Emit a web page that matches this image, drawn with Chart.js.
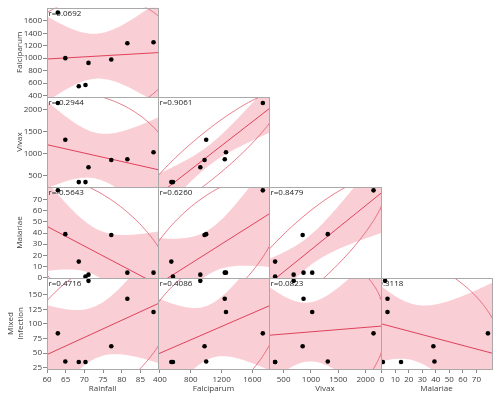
<!DOCTYPE html>
<html><head><meta charset="utf-8">
<script src="https://cdn.jsdelivr.net/npm/chart.js@4"></script>
<style>
html,body{margin:0;padding:0;background:#fff;}
#wrap{position:relative;width:500px;height:397px;overflow:hidden;}
#wrap canvas{position:absolute;left:0;top:0;}
</style></head><body><div id="wrap"></div>
<script>
// ---- data (8 observations) ----
const rainfall   = [62.9, 64.9, 68.5, 70.3, 71.1, 77.2, 81.5, 88.5];
const falciparum = [1735, 1000, 548, 569, 924, 979, 1241, 1257];
const vivax      = [2145, 1308, 344, 344, 683, 848, 864, 1023];
const malariae   = [78.5, 39, 14.3, 0.9, 2.5, 38.2, 4.3, 4.3];
const mixed      = [83.8, 35.7, 34.7, 34.7, 173.7, 61.8, 143.2, 120.5];

const xTitles = ['Rainfall', 'Falciparum', 'Vivax', 'Malariae'];
const yTitles = [['Falciparum'], ['Vivax'], ['Malariae'], ['Mixed', 'Infection']];

const rainfallTicks   = [60, 65, 70, 75, 80, 85];
const falciparumXTicks = [400, 800, 1200, 1600];
const falciparumYTicks = [400, 600, 800, 1000, 1200, 1400, 1600];
const vivaxTicks      = [500, 1000, 1500, 2000];
const malariaeTicks   = [0, 10, 20, 30, 40, 50, 60, 70];
const mixedTicks      = [25, 50, 75, 100, 125, 150];

const rLabels = [
  ['r=0.0692'],
  ['r=-0.2944', 'r=0.9061'],
  ['r=-0.5643', 'r=0.6260', 'r=0.8479'],
  ['r=0.4716', 'r=0.4086', 'r=0.0823', 'r=-0.3118']
];

// ---- statistical constants ----
const T95 = 2.4469;    // Student t, 6 df, two-sided 95%
const CHI95 = 5.9915;  // chi-square, 2 df, 95% (density ellipse)

// ---- layout / scale settings ----
const colEdges = [47, 158, 269, 381, 492];
const rowEdges = [7.5, 97, 187, 278, 369];
const XAXIS_H = 20;
const FONT = '"Segoe UI","Open Sans","Noto Sans",sans-serif';
const TXT = '#3c3c3c';
const BAND = 'rgb(250,206,213)';
const LINE = 'rgb(222,66,92)';
const ELL = 'rgb(226,88,108)';

const colVars = [
  {vals: rainfall,   min: 60,   max: 89.7, ticks: rainfallTicks},
  {vals: falciparum, min: 375,  max: 1815, ticks: falciparumXTicks},
  {vals: vivax,      min: 232,  max: 2282, ticks: vivaxTicks},
  {vals: malariae,   min: -0.5, max: 81.5, ticks: malariaeTicks}
];
const rowVars = [
  {vals: falciparum, min: 375,  max: 1815, ticks: falciparumYTicks},
  {vals: vivax,      min: 232,  max: 2282, ticks: vivaxTicks},
  {vals: malariae,   min: -0.5, max: 81.5, ticks: malariaeTicks},
  {vals: mixed,      min: 22.8, max: 178.6, ticks: mixedTicks}
];

function stats(X, Y) {
  const n = X.length;
  const mx = X.reduce((a, b) => a + b, 0) / n;
  const my = Y.reduce((a, b) => a + b, 0) / n;
  let sxx = 0, syy = 0, sxy = 0;
  for (let i = 0; i < n; i++) {
    const dx = X[i] - mx, dy = Y[i] - my;
    sxx += dx * dx; syy += dy * dy; sxy += dx * dy;
  }
  const b = sxy / sxx, a = my - b * mx;
  const s2 = (syy - b * sxy) / (n - 2);
  return {n, mx, my, sxx, syy, sxy, a, b, s2};
}

const panelPlugin = {
  id: 'panel',
  afterDatasetDraw(chart, args, opts) {
    if (args.index !== 2) return;
    const ca = chart.chartArea, ctx = chart.ctx;
    ctx.save();
    ctx.beginPath();
    ctx.rect(ca.left, ca.top, ca.right - ca.left, ca.bottom - ca.top);
    ctx.clip();
    ctx.font = '8px ' + FONT;
    ctx.fillStyle = '#222';
    ctx.textBaseline = 'top';
    ctx.textAlign = 'left';
    let x = ca.left + 1.5;
    if (opts.hideTo) x = ca.left + 4 - ctx.measureText(opts.hideTo).width;
    ctx.fillText(opts.label, x, ca.top + 2);
    ctx.restore();
  },
  afterDraw(chart, args, opts) {
    const ca = chart.chartArea, ctx = chart.ctx;
    ctx.save();
    ctx.strokeStyle = '#a9a9a9';
    ctx.lineWidth = 1;
    ctx.strokeRect(Math.round(ca.left) + 0.5, Math.round(ca.top) + 0.5,
                   Math.round(ca.right) - Math.round(ca.left), Math.round(ca.bottom) - Math.round(ca.top));
    ctx.restore();
    if (opts.titles) {
      ctx.save();
      ctx.font = '8px ' + FONT;
      ctx.fillStyle = TXT;
      ctx.textAlign = 'center';
      ctx.textBaseline = 'middle';
      xTitles.forEach((t, c) => ctx.fillText(t, (colEdges[c] + colEdges[c + 1]) / 2, 389));
      yTitles.forEach((lines, r) => {
        const cy = (rowEdges[r] + rowEdges[r + 1]) / 2;
        lines.forEach((t, k) => {
          const cx = lines.length === 1 ? 20 : 11 + k * 10;
          ctx.save();
          ctx.translate(cx, cy);
          ctx.rotate(-Math.PI / 2);
          ctx.fillText(t, 0, 0);
          ctx.restore();
        });
      });
      ctx.restore();
    }
  }
};

const wrap = document.getElementById('wrap');

function axisCfg(v, show, horizontal) {
  return {
    type: 'linear', min: v.min, max: v.max, display: show,
    position: horizontal ? 'bottom' : 'left',
    afterFit: s => { if (horizontal) s.height = show ? XAXIS_H : 0; else s.width = show ? colEdges[0] : 0; },
    afterBuildTicks: s => { s.ticks = v.ticks.map(t => ({value: t})); },
    ticks: {
      font: {size: 8, family: FONT}, color: TXT,
      padding: horizontal ? 2 : 1, maxRotation: 0, minRotation: 0, autoSkip: false,
      callback: val => String(val)
    },
    grid: {display: true, drawOnChartArea: false, drawTicks: true, tickLength: 4, color: '#8a8a8a'},
    border: {display: false}
  };
}

for (let r = 0; r < 4; r++) {
  for (let c = 0; c <= r; c++) {
    const xv = colVars[c], yv = rowVars[r];
    const X = xv.vals, Y = yv.vals;
    const st = stats(X, Y);
    const pts = X.map((x, i) => ({x, y: Y[i]}));
    const line = [{x: xv.min, y: st.a + st.b * xv.min}, {x: xv.max, y: st.a + st.b * xv.max}];
    const upper = [], lower = [];
    const steps = 80;
    for (let k = 0; k <= steps; k++) {
      const x = xv.min + (xv.max - xv.min) * k / steps;
      const yh = st.a + st.b * x;
      const se = Math.sqrt(st.s2 * (1 / st.n + (x - st.mx) * (x - st.mx) / st.sxx));
      upper.push({x, y: yh + T95 * se});
      lower.push({x, y: yh - T95 * se});
    }
    const cxx = st.sxx / (st.n - 1), cyy = st.syy / (st.n - 1), cxy = st.sxy / (st.n - 1);
    const l11 = Math.sqrt(cxx), l21 = cxy / l11, l22 = Math.sqrt(Math.max(cyy - l21 * l21, 0));
    const kk = Math.sqrt(CHI95);
    const ell = [];
    for (let k = 0; k <= 240; k++) {
      const th = 2 * Math.PI * k / 240;
      const u = Math.cos(th), w = Math.sin(th);
      ell.push({x: st.mx + kk * l11 * u, y: st.my + kk * (l21 * u + l22 * w)});
    }
    const canvas = document.createElement('canvas');
    canvas.width = 500; canvas.height = 397;
    canvas.style.width = '500px'; canvas.style.height = '397px';
    wrap.appendChild(canvas);
    const isLast = (r === 3 && c === 3);
    const padLeft = c === 0 ? 0 : colEdges[c];
    const padBottom = r === 3 ? 397 - rowEdges[4] - XAXIS_H : 397 - rowEdges[r + 1];
    new Chart(canvas, {
      type: 'scatter',
      data: {datasets: [
        {data: pts, order: 0, pointRadius: 2.3, pointBackgroundColor: '#000', pointBorderColor: '#000', pointBorderWidth: 0, showLine: false},
        {data: line, order: 1, showLine: true, borderColor: LINE, borderWidth: 1, pointRadius: 0, fill: false},
        {data: ell, order: 2, showLine: true, borderColor: ELL, borderWidth: 0.8, pointRadius: 0, fill: false},
        {data: upper, order: 3, showLine: true, borderColor: 'rgba(0,0,0,0)', borderWidth: 0, pointRadius: 0, fill: '+1', backgroundColor: BAND},
        {data: lower, order: 3, showLine: true, borderColor: 'rgba(0,0,0,0)', borderWidth: 0, pointRadius: 0, fill: false}
      ]},
      options: {
        responsive: false, animation: false, devicePixelRatio: 1, events: [],
        layout: {padding: {left: padLeft, right: 500 - colEdges[c + 1], top: rowEdges[r], bottom: padBottom}},
        elements: {line: {tension: 0}},
        plugins: {
          legend: {display: false}, tooltip: {enabled: false},
          panel: {label: rLabels[r][c], hideTo: (r === 3 && c === 3) ? 'r=-0.' : null, titles: isLast}
        },
        scales: {x: axisCfg(xv, r === 3, true), y: axisCfg(yv, c === 0, false)}
      },
      plugins: [panelPlugin]
    });
  }
}
</script>
</body></html>
